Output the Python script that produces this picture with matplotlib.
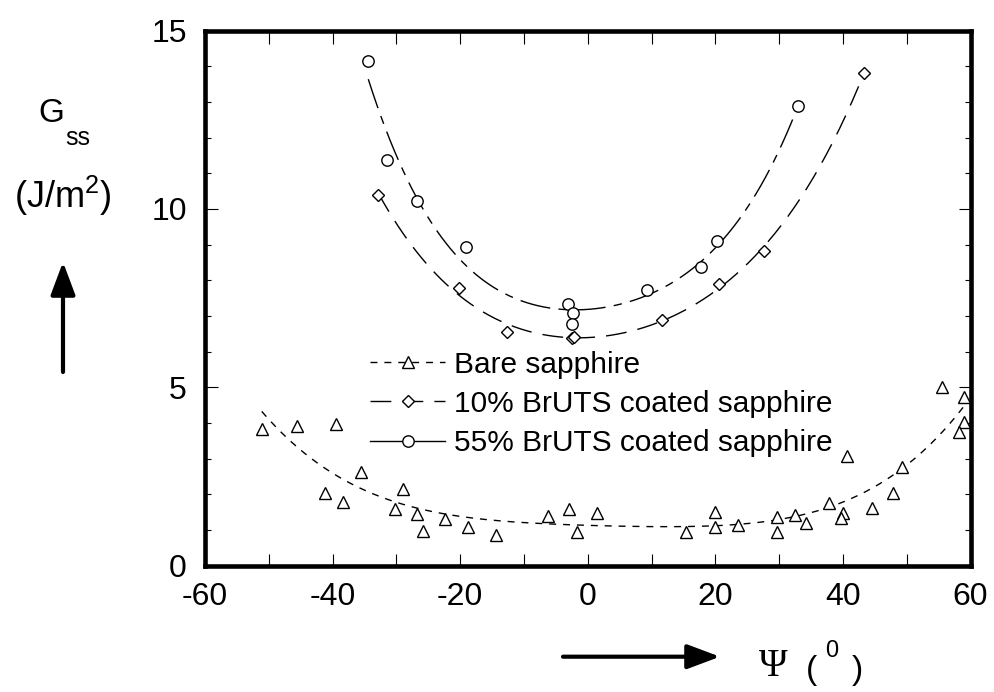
import matplotlib
matplotlib.use('Agg')
import matplotlib.pyplot as plt
import numpy as np
from matplotlib.lines import Line2D
from matplotlib.ticker import MultipleLocator

plt.rcParams['font.family'] = 'Liberation Sans'
plt.rcParams['mathtext.fontset'] = 'custom'
plt.rcParams['mathtext.rm'] = 'Liberation Sans'
plt.rcParams['axes.unicode_minus'] = False

# bare sapphire: phase angle (deg) and steady-state energy (J/m^2)
psi_bare = [-51.1, -45.6, -39.5, -35.6, -41.2, -38.3, -28.9, -30.2, -26.8,
            -25.8, -22.4, -18.8, -14.4, -6.2, -2.9, -1.7, 1.4, 15.4, 19.9,
            19.9, 23.6, 29.7, 29.7, 32.5, 34.2, 37.8, 40.0, 39.7, 40.7, 44.5,
            47.9, 49.2, 55.6, 59.0, 59.0, 58.2]
g_bare = [3.82, 3.91, 3.97, 2.63, 2.04, 1.79, 2.14, 1.58, 1.44,
          0.98, 1.30, 1.07, 0.86, 1.39, 1.58, 0.93, 1.46, 0.95, 1.51,
          1.09, 1.14, 1.37, 0.95, 1.42, 1.20, 1.74, 1.48, 1.32, 3.07, 1.60,
          2.02, 2.77, 5.00, 4.73, 4.03, 3.75]

# 10% BrUTS coating
psi_10 = [-32.8, -20.2, -12.7, -2.4, -2.2, 11.6, 20.5, 27.6, 43.3]
g_10 = [10.39, 7.79, 6.54, 6.38, 6.42, 6.88, 7.88, 8.82, 13.82]

# 55% BrUTS coating
psi_55 = [-34.4, -31.4, -26.8, -19.1, -3.05, -2.27, -2.42, 9.24, 17.7, 20.3, 33.0]
g_55 = [14.14, 11.37, 10.23, 8.92, 7.32, 7.09, 6.77, 7.72, 8.38, 9.10, 12.88]

labels = ['Bare sapphire', '10% BrUTS coated sapphire', '55% BrUTS coated sapphire']


def fit_curve(x, y, deg):
    p = np.polyfit(x, y, deg)
    xs = np.linspace(min(x), max(x), 300)
    return xs, np.polyval(p, xs)


fig = plt.figure(figsize=(9.94, 6.92), dpi=100)
ax = fig.add_axes([0.2062, 0.1828, 0.7702, 0.7731])

# x, y, marker, size, dash pattern
series = [
    (psi_bare, g_bare, '^', 8.2, (5, 5)),
    (psi_10, g_10, 'D', 6, (15, 8)),
    (psi_55, g_55, 'o', 8.2, (22, 6, 6, 6)),
]

handles = []
for x, y, mk, ms, dash in series:
    xs, ys = fit_curve(x, y, 4)
    ax.plot(xs, ys, color='k', lw=1, dashes=dash, zorder=2)
    ax.plot(x, y, ls='none', marker=mk, ms=ms, mfc='white', mec='k', mew=1, zorder=3)
    handles.append(Line2D([], [], color='k', lw=1, dashes=dash, marker=mk, ms=ms,
                          mfc='white', mec='k', mew=1))
handles[2].set_linestyle('-')

ax.set_xlim(-60, 60)
ax.set_ylim(0, 15)
ax.xaxis.set_major_locator(MultipleLocator(20))
ax.xaxis.set_minor_locator(MultipleLocator(10))
ax.yaxis.set_major_locator(MultipleLocator(5))
ax.yaxis.set_minor_locator(MultipleLocator(1))
ax.tick_params(which='both', direction='in', top=True, right=True, width=0.8,
               labelsize=23, color='k')
ax.tick_params(axis='x', which='both', length=9, pad=12)
ax.tick_params(axis='y', which='major', length=9, pad=13)
ax.tick_params(axis='y', which='minor', length=4.5)
for s in ax.spines.values():
    s.set_linewidth(3.3)

ax.legend(handles, labels, loc='center left', bbox_to_anchor=(0.216, 0.302),
          frameon=False, fontsize=21.5, handlelength=2.5, handletextpad=0.3,
          labelspacing=0.37, borderpad=0, borderaxespad=0, numpoints=1)

# axis captions with arrows
H = 692.0
W = 994.0
fig.text(51 / W, 1 - 114 / H, 'G', fontsize=24, ha='center', va='center')
fig.text(78 / W, 1 - 138 / H, 'ss', fontsize=18, ha='center', va='center')
fig.text(63 / W, 1 - 196 / H, r'(J/m$^{\mathregular{2}}$)', fontsize=26,
         ha='center', va='center')
ax.annotate('', xy=(63, H - 262), xycoords='figure pixels',
            xytext=(63, H - 372), textcoords='figure pixels',
            arrowprops=dict(arrowstyle='-|>,head_length=20,head_width=7.5',
                            mutation_scale=1, lw=3, color='k',
                            shrinkA=0, shrinkB=0))
ax.annotate('', xy=(720, H - 656.7), xycoords='figure pixels',
            xytext=(563, H - 656.7), textcoords='figure pixels',
            arrowprops=dict(arrowstyle='-|>,head_length=20,head_width=7.5',
                            mutation_scale=1, lw=3, color='k',
                            shrinkA=0, shrinkB=0))
fig.text(773 / W, 1 - 667 / H, 'Ψ', family='Liberation Serif', fontsize=28,
         ha='center', va='center')
fig.text(812 / W, 1 - 670 / H, '(', fontsize=24, ha='center', va='center')
fig.text(832 / W, 1 - 651 / H, '0', fontsize=17, ha='center', va='center')
fig.text(857 / W, 1 - 670 / H, ')', fontsize=24, ha='center', va='center')

fig.savefig('out.png', dpi=100)
